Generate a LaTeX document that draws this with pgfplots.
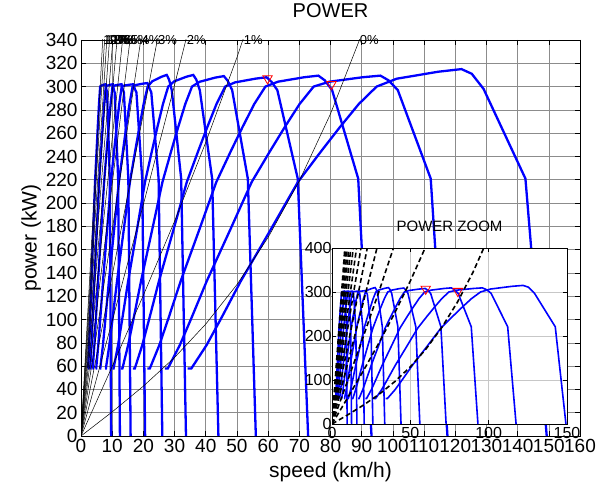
\documentclass[border=0pt]{standalone}
\usepackage{fontspec}
\setmainfont{Liberation Sans}
\usepackage{pgfplots}
\usepackage{pgfplotstable}
\pgfplotsset{compat=1.18}

% gear power curves (speed km/h, power kW)
\pgfplotstableread{
x y
2.21 58
2.29 58
2.61 78
2.92 102
3.32 133
3.95 178
4.50 218
4.98 244
5.37 265
5.77 285
6.14 300
6.56 300.9
7.43 301.7
7.90 302
8.11 298
8.36 295
9.23 221
9.67 0
}\gearA
\pgfplotstableread{
x y
2.86 58
2.96 58
3.37 78
3.77 102
4.28 133
5.10 178
5.81 218
6.43 244
6.94 265
7.45 285
7.93 300
8.47 300.9
9.59 301.7
10.20 302
10.48 298
10.79 295
11.91 221
12.48 0
}\gearB
\pgfplotstableread{
x y
3.64 58
3.77 58
4.29 78
4.81 102
5.46 133
6.50 178
7.41 218
8.19 244
8.84 265
9.49 285
10.10 300
10.79 300.9
12.22 301.7
13.00 302
13.35 298
13.75 295
15.18 221
15.91 0
}\gearC
\pgfplotstableread{
x y
4.70 58
4.87 58
5.54 78
6.22 102
7.06 133
8.40 178
9.58 218
10.58 244
11.42 265
12.26 285
13.05 300
13.94 300.9
15.79 301.7
16.80 302
17.25 298
17.77 295
19.62 221
20.56 0
}\gearD
\pgfplotstableread{
x y
5.96 58
6.18 58
7.03 78
7.88 102
8.95 133
10.65 178
12.14 218
13.42 244
14.48 265
15.55 285
16.55 300
17.68 301.4
20.02 302.6
21.30 303
21.88 299
22.54 295
24.88 221
26.07 0
}\gearE
\pgfplotstableread{
x y
7.70 58
7.98 58
9.08 78
10.18 102
11.55 133
13.75 178
15.68 218
17.33 244
18.70 265
20.08 285
21.37 300
22.83 304.5
25.85 308.5
27.50 310
28.24 306
29.10 297
32.12 221
33.66 0
}\gearF
\pgfplotstableread{
x y
10.08 58
10.44 58
11.88 78
13.32 102
15.12 133
18.00 178
20.52 218
22.68 244
24.48 265
26.28 285
27.97 300
29.88 304.5
33.84 308.5
36.00 310
36.97 306
38.09 297
42.05 221
44.06 0
}\gearG
\pgfplotstableread{
x y
12.82 58
13.28 58
15.11 78
16.95 102
19.24 133
22.90 178
26.11 218
28.85 244
31.14 265
33.43 285
35.59 300
38.01 304.1
43.05 307.7
45.80 309
47.04 305
48.46 297
53.49 221
56.06 0
}\gearH
\pgfplotstableread{
x y
16.66 58
17.26 58
19.64 78
22.02 102
24.99 133
29.75 178
33.92 218
37.49 244
40.46 265
43.44 285
46.23 300
49.39 303.6
55.93 306.8
59.50 308
61.11 304
62.95 297
69.50 221
72.83 0
}\gearI
\pgfplotstableread{
x y
21.31 58
22.07 58
25.11 78
28.16 102
31.96 133
38.05 178
43.38 218
47.94 244
51.75 265
55.55 285
59.13 300
63.16 304.2
71.53 308
76.10 309.4
78.15 305.4
80.51 297
88.88 221
93.15 0
}\gearJ
\pgfplotstableread{
x y
26.88 58
27.84 58
31.68 78
35.52 102
40.32 133
48.00 178
54.72 218
60.48 244
65.28 265
70.08 285
74.59 300
79.68 304.2
90.24 308
96.00 309.4
98.59 305.4
101.57 297
112.13 221
117.50 0
}\gearK
\pgfplotstableread{
x y
34.16 58
35.38 58
40.26 78
45.14 102
51.24 133
61.00 178
69.54 218
76.86 244
82.96 265
89.06 285
94.79 300
101.26 306.8
114.68 312.8
122.00 315
125.29 311
129.08 298
142.50 221
149.33 0
}\gearL

\newcommand{\gearlines}{%
  \addplot[gear] table {\gearA};
  \addplot[gear] table {\gearB};
  \addplot[gear] table {\gearC};
  \addplot[gear] table {\gearD};
  \addplot[gear] table {\gearE};
  \addplot[gear] table {\gearF};
  \addplot[gear] table {\gearG};
  \addplot[gear] table {\gearH};
  \addplot[gear] table {\gearI};
  \addplot[gear] table {\gearJ};
  \addplot[gear] table {\gearK};
  \addplot[gear] table {\gearL};
}

% road load for grades 0% ... 12%
\newcommand{\gradelines}{%
  \addplot[grade] coordinates {(0,0) (10,20.7) (20,42.8) (30,67.4) (40,96.1) (50,130.0) (60,170.5) (70,219.0) (80,276.6) (90,344.9) (100,425.0)};
  \addplot[grade] coordinates {(0,0) (10,59.7) (20,120.8) (30,184.4) (40,252.1) (50,325.0) (60,404.5) (65,447.2)};
  \addplot[grade] coordinates {(0,0) (10,98.7) (20,198.8) (30,301.4) (40,408.1)};
  \addplot[grade] coordinates {(0,0) (10,137.7) (20,276.8) (30,418.4)};
  \addplot[grade] coordinates {(0,0) (10,176.7) (20,354.8) (25,444.7)};
  \addplot[grade] coordinates {(0,0) (20,432.8)};
  \addplot[grade] coordinates {(0,0) (17,433.8)};
  \addplot[grade] coordinates {(0,0) (15,441.0)};
  \addplot[grade] coordinates {(0,0) (13,432.8)};
  \addplot[grade] coordinates {(0,0) (12,446.2)};
  \addplot[grade] coordinates {(0,0) (11,451.9)};
  \addplot[grade] coordinates {(0,0) (10,449.7)};
  \addplot[grade] coordinates {(0,0) (9,439.8)};
}

\newcommand{\opmarks}{%
  \addplot[only marks, mark=triangle, mark size=5.5pt,
    mark options={rotate=180, red, line width=0.8pt, fill=none}]
    coordinates {(59.8,307) (80.3,302)};
}

\begin{document}
\begin{tikzpicture}
\useasboundingbox (0,0) rectangle (596pt,487pt);

\tikzset{gear/.style={blue, line width=2.3pt},
         grade/.style={black, line width=0.5pt}}
\begin{axis}[
    at={(81pt,51pt)}, anchor=south west,
    scale only axis, width=499pt, height=396pt,
    xmin=0, xmax=160, ymin=0, ymax=340,
    xtick={0,10,...,160}, ytick={0,20,...,340},
    grid=major, grid style={black!45, line width=0.6pt},
    axis line style={black, line width=0.6pt},
    tick style={black, line width=0.6pt}, major tick length=5pt,
    tick label style={font=\fontsize{19}{19}\selectfont},
    /pgf/number format/assume math mode=true,
    title={POWER},
    title style={at={(axis description cs:0.5,1.058)}, anchor=center,
      font=\fontsize{20}{20}\selectfont},
    xlabel={speed (km/h)}, ylabel={power (kW)},
    xlabel style={at={(axis description cs:0.5,-0.09)}, anchor=center,
      font=\fontsize{21}{21}\selectfont},
    ylabel style={at={(axis description cs:-0.1,0.5)}, anchor=center,
      rotate=0, font=\fontsize{21}{21}\selectfont},
    clip mode=individual,
  ]
  \gearlines
  \gradelines
  \opmarks
  \begin{scope}[every node/.style={anchor=west, inner sep=0.5pt,
      font=\fontsize{13}{13}\selectfont}]
    \node at (axis cs:6.96,340) {12\%};
    \node at (axis cs:7.56,340) {11\%};
    \node at (axis cs:8.28,340) {10\%};
    \node at (axis cs:9.15,340) {9\%};
    \node at (axis cs:10.21,340) {8\%};
    \node at (axis cs:11.56,340) {7\%};
    \node at (axis cs:13.33,340) {6\%};
    \node at (axis cs:15.74,340) {5\%};
    \node at (axis cs:19.2,340) {4\%};
    \node at (axis cs:24.5,340) {3\%};
    \node at (axis cs:33.7,340) {2\%};
    \node at (axis cs:52.0,340) {1\%};
    \node at (axis cs:89.2,340) {0\%};
  \end{scope}
\end{axis}

\tikzset{gear/.style={blue, line width=1.6pt},
         grade/.style={black, line width=1.6pt, dash pattern=on 5pt off 3pt}}
\begin{axis}[
    at={(332pt,63pt)}, anchor=south west,
    scale only axis, width=235pt, height=176pt,
    xmin=0, xmax=150, ymin=0, ymax=400,
    xtick={0,50,100,150}, ytick={0,100,...,400},
    axis background/.style={fill=white},
    grid=major, grid style={black!22, line width=0.6pt},
    axis line style={black, line width=0.6pt},
    tick style={black, line width=0.6pt}, major tick length=4pt,
    tick label style={font=\fontsize{16}{16}\selectfont},
    yticklabel style={xshift=3pt},
    /pgf/number format/assume math mode=true,
    title={POWER ZOOM},
    title style={at={(axis description cs:0.5,1.09)}, anchor=center,
      font=\fontsize{15}{15}\selectfont},
  ]
  \gearlines
  \gradelines
  \opmarks
\end{axis}
\end{tikzpicture}
\end{document}
